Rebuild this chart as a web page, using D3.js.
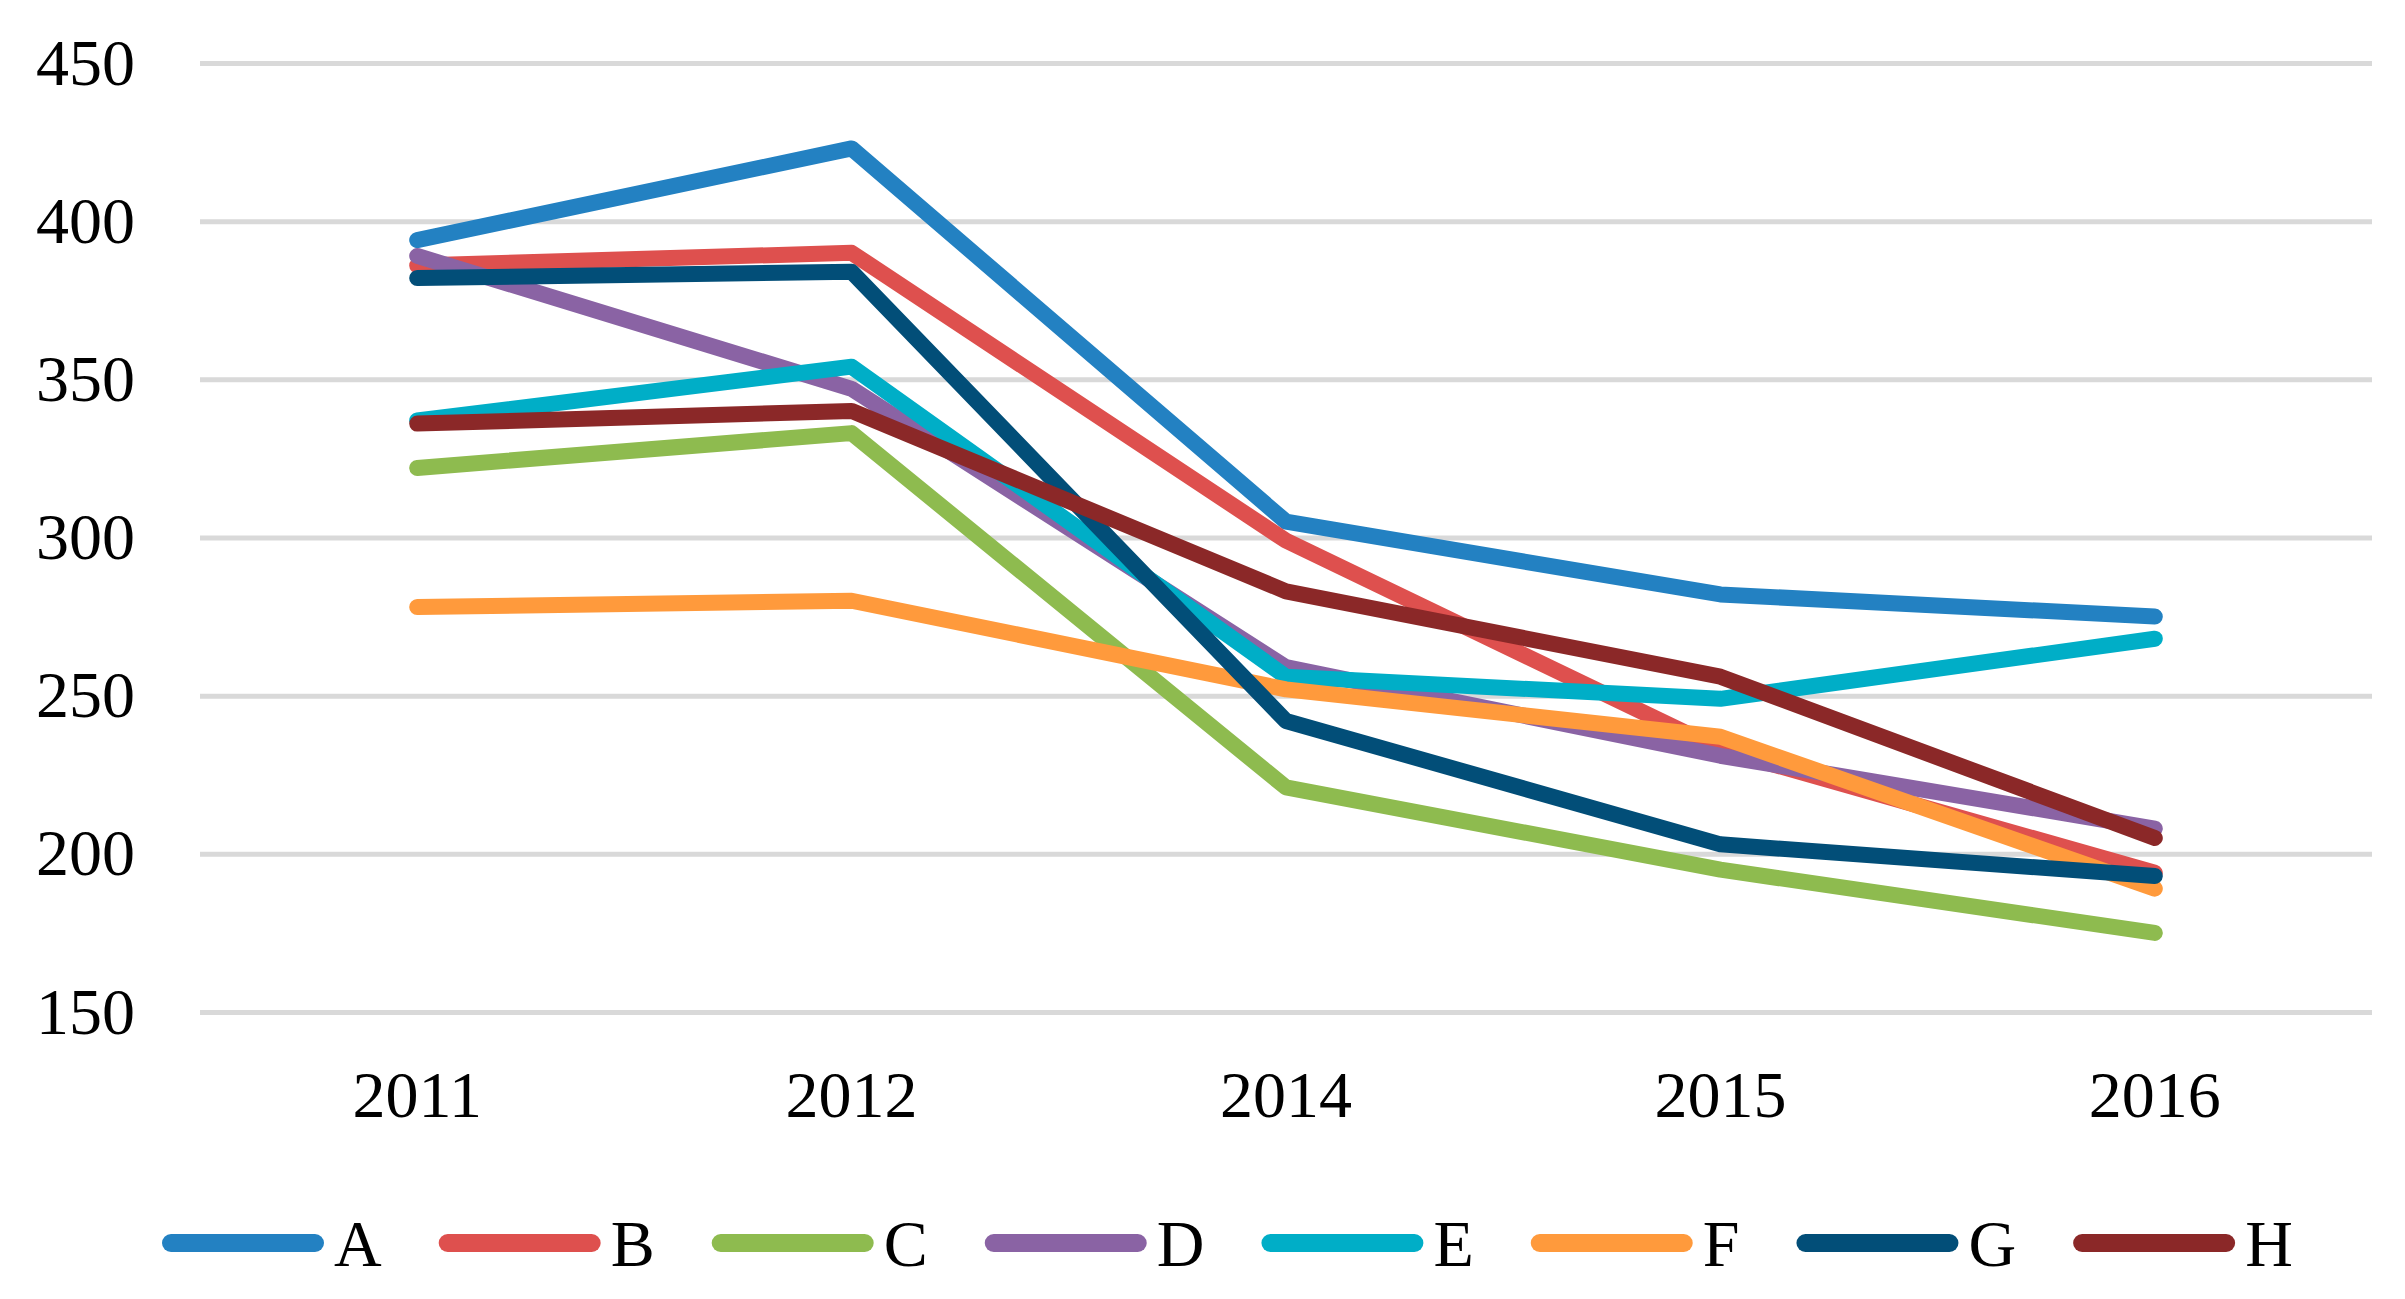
<!DOCTYPE html>
<html>
<head>
<meta charset="utf-8">
<script src="https://d3js.org/d3.v7.min.js"></script>
<style>
  body { margin: 0; background: #fff; }
  text { font-family: "Liberation Serif", "Times New Roman", serif; fill: #000; }
</style>
</head>
<body>
<div id="chart"></div>
<script>
// categories (x axis) and series names
var years = ["2011", "2012", "2014", "2015", "2016"];
var seriesNames = ["A", "B", "C", "D", "E", "F", "G", "H"];

// values, one array per series
var valuesA = [394, 423, 305, 282, 275];
var valuesB = [386, 390, 299, 233, 194];
var valuesC = [322, 333, 221, 195, 175];
var valuesD = [389, 347, 259, 231, 208];
var valuesE = [337, 354, 256, 249, 268];
var valuesF = [278, 280, 252, 237, 189];
var valuesG = [382, 384, 242, 203, 193];
var valuesH = [336, 340, 283, 256, 205];

var seriesColors = ["#2381C2", "#DE504E", "#8EBB4F", "#8A63A4", "#00AEC7", "#FF9A3C", "#024E78", "#8B2828"];
var yTicks = [150, 200, 250, 300, 350, 400, 450];

var allValues = [valuesA, valuesB, valuesC, valuesD, valuesE, valuesF, valuesG, valuesH];

// svg container
var svgWidth = 2405;
var svgHeight = 1299;

var margin = {
  top: 63,
  right: 33,
  bottom: 287,
  left: 200
};

var chartWidth = svgWidth - margin.left - margin.right;
var chartHeight = svgHeight - margin.top - margin.bottom;

var svg = d3.select("#chart")
  .append("svg")
  .attr("width", svgWidth)
  .attr("height", svgHeight);

var chartGroup = svg.append("g")
  .attr("transform", `translate(${margin.left}, ${margin.top})`);

// scales
var xBandScale = d3.scaleBand()
  .domain(years)
  .range([0, chartWidth]);

var yLinearScale = d3.scaleLinear()
  .domain([150, 450])
  .range([chartHeight, 0]);

// gridlines + y labels through the axis
var leftAxis = d3.axisLeft(yLinearScale)
  .tickValues(yTicks)
  .tickSize(-chartWidth)
  .tickPadding(65)
  .tickFormat(d3.format("d"));

var yAxisGroup = chartGroup.append("g")
  .call(leftAxis);

yAxisGroup.select(".domain").remove();
yAxisGroup.selectAll("line")
  .attr("stroke", "#D9D9D9")
  .attr("stroke-width", 5);
yAxisGroup.selectAll("text")
  .attr("font-size", 66)
  .attr("font-family", "Liberation Serif, Times New Roman, serif");

// x labels
var bottomAxis = d3.axisBottom(xBandScale)
  .tickSize(0)
  .tickPadding(58);

var xAxisGroup = chartGroup.append("g")
  .attr("transform", `translate(0, ${chartHeight})`)
  .call(bottomAxis);

xAxisGroup.select(".domain").remove();
xAxisGroup.selectAll("text")
  .attr("font-size", 66)
  .attr("font-family", "Liberation Serif, Times New Roman, serif");

// lines
var lineGen = d3.line()
  .x((d, i) => xBandScale(years[i]) + xBandScale.bandwidth() / 2)
  .y(d => yLinearScale(d));

chartGroup.selectAll(".seriesLine")
  .data(allValues)
  .enter()
  .append("path")
  .classed("seriesLine", true)
  .attr("d", d => lineGen(d))
  .attr("fill", "none")
  .attr("stroke", (d, i) => seriesColors[i])
  .attr("stroke-width", 16)
  .attr("stroke-linejoin", "round")
  .attr("stroke-linecap", "round");

// legend, laid out one after the other
var legendGroup = svg.append("g")
  .attr("transform", "translate(0, 1243)");

var legendX = 162;
seriesNames.forEach(function(name, i) {
  legendGroup.append("line")
    .attr("x1", legendX + 9)
    .attr("x2", legendX + 153)
    .attr("y1", 0)
    .attr("y2", 0)
    .attr("stroke", seriesColors[i])
    .attr("stroke-width", 18)
    .attr("stroke-linecap", "round");

  var label = legendGroup.append("text")
    .attr("x", legendX + 172)
    .attr("y", 0)
    .attr("dy", "0.35em")
    .attr("font-size", 66)
    .text(name);

  legendX = legendX + 172 + label.node().getComputedTextLength() + 57;
});
</script>
</body>
</html>
